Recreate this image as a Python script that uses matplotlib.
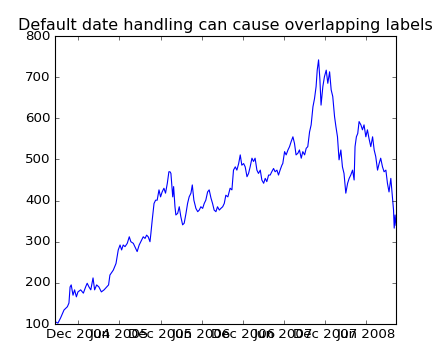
#!/usr/bin/env python

import numpy as np
import matplotlib
matplotlib.use('Agg')
import matplotlib.pyplot as plt
import matplotlib.dates as mdates

# price readings, roughly weekly
dates = [
    '2004-08-19', '2004-09-01', '2004-09-13', '2004-09-28', '2004-10-13', '2004-10-20',
    '2004-10-25', '2004-10-30', '2004-11-07', '2004-11-14', '2004-11-22', '2004-11-29',
    '2004-12-11', '2004-12-23', '2005-01-02', '2005-01-09', '2005-01-17', '2005-01-25',
    '2005-02-04', '2005-02-11', '2005-02-20', '2005-03-02', '2005-03-13', '2005-03-25',
    '2005-04-06', '2005-04-14', '2005-04-20', '2005-04-30', '2005-05-05', '2005-05-17',
    '2005-05-27', '2005-06-04', '2005-06-11', '2005-06-18', '2005-06-26', '2005-07-06',
    '2005-07-15', '2005-07-22', '2005-08-02', '2005-08-09', '2005-08-19', '2005-08-28',
    '2005-09-08', '2005-09-15', '2005-09-23', '2005-09-30', '2005-10-07', '2005-10-15',
    '2005-10-19', '2005-10-25', '2005-11-02', '2005-11-09', '2005-11-16', '2005-11-24',
    '2005-12-01', '2005-12-08', '2005-12-16', '2005-12-23', '2005-12-31', '2006-01-07',
    '2006-01-12', '2006-01-16', '2006-01-24', '2006-01-28', '2006-02-03', '2006-02-07',
    '2006-02-15', '2006-02-22', '2006-03-01', '2006-03-09', '2006-03-16', '2006-03-24',
    '2006-03-31', '2006-04-07', '2006-04-15', '2006-04-21', '2006-04-28', '2006-05-07',
    '2006-05-15', '2006-05-22', '2006-05-29', '2006-06-06', '2006-06-13', '2006-06-20',
    '2006-06-28', '2006-07-05', '2006-07-13', '2006-07-20', '2006-07-27', '2006-08-04',
    '2006-08-11', '2006-08-19', '2006-08-26', '2006-09-03', '2006-09-10', '2006-09-17',
    '2006-09-26', '2006-10-06', '2006-10-14', '2006-10-21', '2006-10-29', '2006-11-05',
    '2006-11-13', '2006-11-20', '2006-11-27', '2006-12-05', '2006-12-12', '2006-12-20',
    '2006-12-27', '2007-01-03', '2007-01-11', '2007-01-18', '2007-01-25', '2007-02-02',
    '2007-02-09', '2007-02-17', '2007-02-24', '2007-03-04', '2007-03-11', '2007-03-18',
    '2007-03-26', '2007-04-02', '2007-04-09', '2007-04-17', '2007-04-24', '2007-05-02',
    '2007-05-09', '2007-05-16', '2007-05-24', '2007-05-28', '2007-06-05', '2007-06-12',
    '2007-06-20', '2007-06-27', '2007-07-04', '2007-07-12', '2007-07-19', '2007-07-26',
    '2007-08-03', '2007-08-10', '2007-08-18', '2007-08-25', '2007-09-02', '2007-09-09',
    '2007-09-16', '2007-09-24', '2007-10-01', '2007-10-09', '2007-10-16', '2007-10-23',
    '2007-10-28', '2007-11-03', '2007-11-09', '2007-11-14', '2007-11-22', '2007-11-29',
    '2007-12-07', '2007-12-14', '2007-12-22', '2007-12-29', '2008-01-05', '2008-01-13',
    '2008-01-19', '2008-01-26', '2008-02-02', '2008-02-10', '2008-02-17', '2008-02-24',
    '2008-03-03', '2008-03-11', '2008-03-18', '2008-03-25', '2008-04-02', '2008-04-09',
    '2008-04-13', '2008-04-19', '2008-04-25', '2008-05-01', '2008-05-09', '2008-05-16',
    '2008-05-23', '2008-05-31', '2008-06-07', '2008-06-14', '2008-06-22', '2008-06-30',
    '2008-07-07', '2008-07-14', '2008-07-22', '2008-07-29', '2008-08-05', '2008-08-13',
    '2008-08-20', '2008-08-28', '2008-09-04', '2008-09-11', '2008-09-19', '2008-09-26',
    '2008-10-01', '2008-10-04', '2008-10-08', '2008-10-12',
]

prices = [
    106, 102, 115, 134, 142, 151,
    190, 195, 170, 183, 166, 178,
    183, 175, 190, 199, 190, 183,
    212, 183, 195, 190, 178, 183,
    190, 195, 219, 227, 231, 247,
    280, 292, 280, 292, 288, 296,
    312, 300, 296, 288, 276, 292,
    304, 312, 308, 316, 312, 300,
    320, 353, 393, 401, 401, 426,
    409, 421, 430, 418, 442, 470,
    470, 466, 409, 434, 385, 365,
    369, 385, 361, 341, 345, 369,
    393, 409, 418, 438, 401, 381,
    373, 377, 385, 381, 393, 401,
    421, 426, 406, 393, 377, 373,
    385, 377, 381, 385, 393, 413,
    409, 430, 426, 474, 482, 474,
    490, 511, 486, 490, 482, 458,
    466, 482, 503, 495, 503, 474,
    466, 474, 450, 442, 454, 446,
    462, 462, 470, 478, 470, 474,
    462, 474, 486, 490, 519, 511,
    523, 531, 543, 555, 539, 511,
    515, 523, 503, 519, 511, 527,
    531, 567, 584, 628, 648, 677,
    717, 742, 693, 632, 677, 701,
    717, 685, 713, 669, 653, 604,
    580, 555, 499, 523, 482, 466,
    418, 442, 454, 462, 474, 450,
    531, 555, 563, 592, 584, 572,
    584, 555, 572, 551, 531, 555,
    523, 507, 474, 490, 503, 482,
    470, 474, 442, 421, 454, 409,
    377, 333, 365, 340,
]

yticks = [100, 200, 300, 400, 500, 600, 700, 800]

plt.style.use('classic')

d = np.array(dates, dtype='datetime64[D]')

fig = plt.figure(figsize=(5.5, 4.5), dpi=80)
ax = fig.add_subplot(111)
ax.plot(d, prices, 'b-', lw=1)
ax.set_title('Default date handling can cause overlapping labels')

ax.set_xlim(d[0], d[-1])
ax.set_ylim(yticks[0], yticks[-1])
ax.set_yticks(yticks)
ax.xaxis.set_major_locator(mdates.MonthLocator(bymonth=[6, 12]))
ax.xaxis.set_major_formatter(mdates.DateFormatter('%b %Y'))

fig.subplots_adjust(left=0.125, right=0.9, bottom=0.1, top=0.9)
fig.savefig('out.png', dpi=80, facecolor='white')
